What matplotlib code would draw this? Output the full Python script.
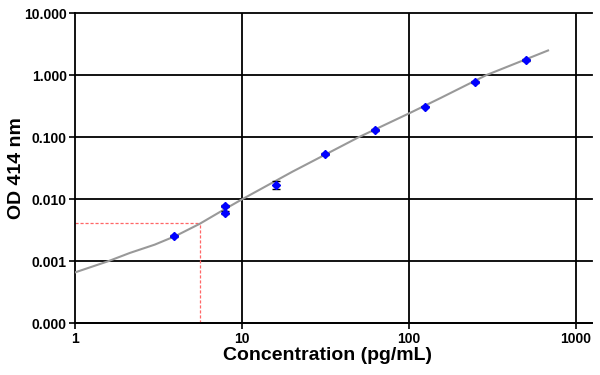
import matplotlib.pyplot as plt
import numpy as np

plt.rcParams['font.family'] = ['Liberation Sans', 'DejaVu Sans']

# standard points (concentration, OD)
conc = [3.9, 7.9, 7.9, 15.9, 31.5, 63, 125, 249, 500]
od = [0.00256, 0.0078, 0.0061, 0.0171, 0.054, 0.130, 0.31, 0.77, 1.75]
od_err = [0.0001, 0.0004, 0.0003, 0.0023, 0.002, 0.004, 0.008, 0.02, 0.04]

# fitted curve
curve_x = [1, 1.58, 2.13, 3.0, 4.0, 5.57, 7.8, 9.9, 20, 50, 102, 155, 290, 680]
curve_y = [0.00066, 0.001, 0.00136, 0.00185, 0.00255, 0.0040, 0.0068, 0.0098, 0.0277, 0.1, 0.248, 0.43, 1.0, 2.5]

# unknown sample read-off
sample_x = 5.57
sample_y = 0.00406

xticks = [1, 10, 100, 1000]
yticks = [0.0001, 0.001, 0.01, 0.1, 1, 10]

fig = plt.figure(figsize=(6, 3.75), dpi=100, facecolor='white')
ax = fig.add_axes([0.125, 0.138, 0.862, 0.827])
ax.set_xscale('log')
ax.set_yscale('log')
ax.set_xlim(1, 1250)
ax.set_ylim(0.0001, 10)

# grid
for yv in yticks:
    ax.axhline(yv, color='black', linewidth=1.3, zorder=1, clip_on=False)
for xv in xticks[1:]:
    ax.axvline(xv, color='black', linewidth=1.3, zorder=1)

# read-off lines
ax.plot([1, sample_x], [sample_y, sample_y], color='#ff6666', linestyle=(0, (2.5, 1.5)), linewidth=0.9, zorder=2)
ax.plot([sample_x, sample_x], [0.0001, sample_y], color='#ff6666', linestyle=(0, (2.5, 1.5)), linewidth=0.9, zorder=2)

ax.plot(curve_x, curve_y, color='#999999', linewidth=1.5, zorder=3)
ax.errorbar(conc, od, yerr=od_err, fmt='D', color='#0000ff', markersize=4.5,
            ecolor='black', elinewidth=1, capsize=3, capthick=1, zorder=4)

ax.set_xticks(xticks)
ax.set_xticklabels(['1', '10', '100', '1000'])
ax.set_yticks(yticks)
ax.set_yticklabels(['%.3f' % v for v in yticks])
ax.minorticks_off()
ax.tick_params(axis='both', length=4, width=1.2, labelsize=10, pad=2)
for lbl in ax.get_xticklabels() + ax.get_yticklabels():
    lbl.set_fontweight('bold')

ax.spines['top'].set_visible(False)
ax.spines['right'].set_visible(False)
ax.spines['left'].set_linewidth(1.3)
ax.spines['bottom'].set_linewidth(1.3)

ax.set_xlabel('Concentration (pg/mL)', fontsize=14, fontweight='bold')
ax.set_ylabel('OD 414 nm', fontsize=14, fontweight='bold')
ax.xaxis.set_label_coords(0.489, -0.075)
ax.yaxis.set_label_coords(-0.097, 0.5)

fig.savefig('out.png', dpi=100, facecolor='white')
